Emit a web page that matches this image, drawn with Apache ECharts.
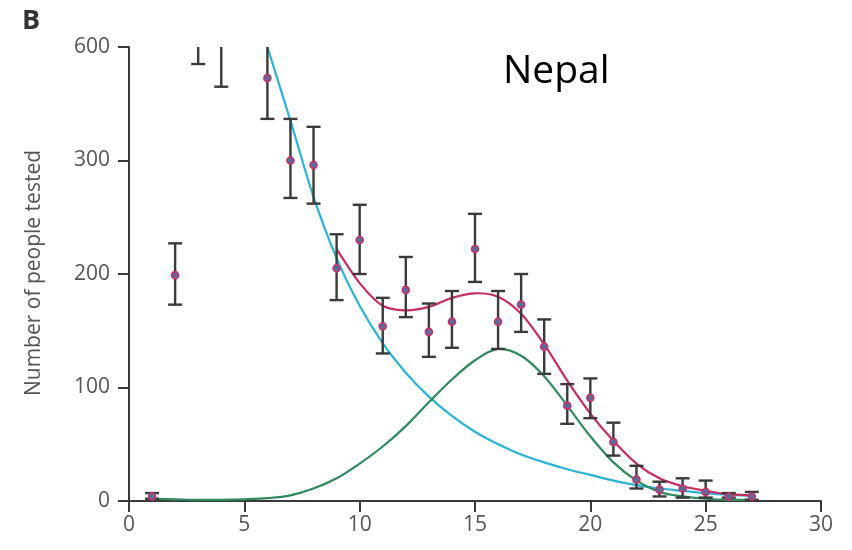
<!DOCTYPE html>
<html>
<head>
<meta charset="utf-8">
<script src="https://cdn.jsdelivr.net/npm/echarts@6/dist/echarts.min.js"></script>
<style>
html,body{margin:0;padding:0;background:#fff;}
#chart{width:852px;height:550px;}
</style>
</head>
<body>
<div id="chart"></div>
<script>
// ---- data (actual values; y axis is broken above 300: 300–600 compressed) ----
var obsX    = [1, 2, 3, 4, 6, 7, 8, 9, 10, 11, 12, 13, 14, 15, 16, 17, 18, 19, 20, 21, 22, 23, 24, 25, 26, 27];
var obsVal  = [4, 199, 665, 610, 518, 300, 296, 205, 230, 154, 186, 149, 158, 222, 158, 173, 136, 84, 91, 52, 19, 10, 11, 8, 4, 4];
var obsLow  = [2, 173, 555, 495, 410, 267, 262, 177, 200, 130, 162, 127, 135, 193, 134, 149, 112, 68, 73, 40, 11, 4, 3, 3, 3, 1];
var obsHigh = [7, 227, 780, 720, 640, 410, 389, 235, 261, 179, 215, 174, 185, 253, 185, 200, 160, 103, 108, 69, 31, 17, 20, 18, 7, 8];

var blueX = [6, 7, 8, 9, 10, 11, 12, 13, 14, 15, 16, 17, 18, 19, 20, 21, 22, 23, 24, 25, 26, 27];
var blueY = [600, 405, 268, 214, 172, 139, 113, 92, 75, 61, 50, 41, 34, 28, 23, 18, 14, 11, 9, 7, 5.5, 4.5];

var greenX = [1, 2, 3, 4, 5, 6, 7, 8, 9, 10, 11, 12, 13, 14, 15, 16, 17, 18, 19, 20, 21, 22, 23, 24, 25, 26, 27];
var greenY = [2, 1.5, 1, 1, 1.5, 2.5, 5, 11, 20, 33, 48, 66, 87, 107, 124, 134, 128, 110, 84, 57, 34, 18, 8, 4, 2, 1, 1];

var redX = [9, 10, 11, 12, 13, 14, 15, 16, 17, 18, 19, 20, 21, 22, 23, 24, 25, 26, 27];
var redY = [222, 192, 172, 168, 171, 179, 183, 180, 165, 138, 106, 77, 53, 33, 20, 13, 9, 6, 5];

var yTickLabels = ['0', '100', '200', '300', '600'];
var xTickLabels = ['0', '5', '10', '15', '20', '25', '30'];

// broken-axis mapping: values above 300 are compressed 3:1
function disp(v) { return v <= 300 ? v : 300 + (v - 300) / 3; }
function pairs(xs, ys) { return xs.map(function (x, i) { return [x, disp(ys[i])]; }); }

// smooth curve (Catmull-Rom -> cubic Bezier) through points placed by the axis scales
function curveSeries(xs, ys, color, z) {
  var pts = pairs(xs, ys);
  return {
    type: 'custom', clip: true, z: z, silent: true,
    data: [pts[0]],
    renderItem: function (params, api) {
      var p = pts.map(function (d) { return api.coord(d); });
      var n = p.length;
      var d = 'M' + p[0][0] + ' ' + p[0][1];
      for (var i = 0; i < n - 1; i++) {
        var p0 = p[i > 0 ? i - 1 : i], p1 = p[i], p2 = p[i + 1], p3 = p[i + 2 < n ? i + 2 : i + 1];
        var c1x = p1[0] + (p2[0] - p0[0]) / 6, c1y = p1[1] + (p2[1] - p0[1]) / 6;
        var c2x = p2[0] - (p3[0] - p1[0]) / 6, c2y = p2[1] - (p3[1] - p1[1]) / 6;
        d += ' C' + c1x + ' ' + c1y + ' ' + c2x + ' ' + c2y + ' ' + p2[0] + ' ' + p2[1];
      }
      return {type: 'path', shape: {pathData: d},
        style: {stroke: color, fill: null, lineWidth: 2.2}};
    }
  };
}

var chart = echarts.init(document.getElementById('chart'), null, {renderer: 'canvas'});
var axisColor = '#3a3a3a';
var labelColor = '#555';
var fontFam = '"Open Sans", "Noto Sans", sans-serif';

var option = {
  animation: false,
  backgroundColor: '#fff',
  grid: {left: 129, right: 31, top: 47, bottom: 49, containLabel: false},
  xAxis: {
    type: 'value', min: 0, max: 30, interval: 5,
    axisLine: {show: true, lineStyle: {color: axisColor, width: 2}},
    axisTick: {show: true, inside: false, length: 11, lineStyle: {color: axisColor, width: 2}},
    axisLabel: {color: labelColor, fontSize: 21, fontFamily: fontFam, margin: 14,
      formatter: function (v) { return xTickLabels[v / 5]; }},
    splitLine: {show: false}
  },
  yAxis: {
    type: 'value', min: 0, max: 400, interval: 100,
    axisLine: {show: true, lineStyle: {color: axisColor, width: 2}},
    axisTick: {show: true, inside: false, length: 11, lineStyle: {color: axisColor, width: 2}},
    axisLabel: {color: labelColor, fontSize: 21, fontFamily: fontFam, margin: 19,
      formatter: function (v) { return yTickLabels[v / 100]; }},
    splitLine: {show: false}
  },
  graphic: [
    {type: 'text', left: 22, top: 8, style: {text: 'B', font: 'bold 27px ' + fontFam, fill: '#333'}},
    {type: 'text', left: 503, top: 52, style: {text: 'Nepal', font: '39px ' + fontFam, fill: '#000'}},
    {type: 'text', x: 34, y: 273, rotation: Math.PI / 2,
      style: {text: 'Number of people tested', font: '21px ' + fontFam, fill: labelColor,
        textAlign: 'center', textVerticalAlign: 'middle'}}
  ],
  series: [
    curveSeries(blueX, blueY, '#2ab3d6', 2),
    curveSeries(greenX, greenY, '#2e8a5c', 2),
    curveSeries(redX, redY, '#c72d5e', 3),
    {type: 'custom', clip: true, z: 4,
      data: obsX.map(function (x, i) { return [x, disp(obsLow[i]), disp(obsHigh[i])]; }),
      renderItem: function (params, api) {
        var lo = api.coord([api.value(0), api.value(1)]);
        var hi = api.coord([api.value(0), api.value(2)]);
        var hw = 7;
        var st = {stroke: '#3a3a3a', lineWidth: 2.4};
        return {type: 'group', children: [
          {type: 'line', shape: {x1: lo[0], y1: lo[1], x2: hi[0], y2: hi[1]}, style: st},
          {type: 'line', shape: {x1: lo[0] - hw, y1: lo[1], x2: lo[0] + hw, y2: lo[1]}, style: st},
          {type: 'line', shape: {x1: hi[0] - hw, y1: hi[1], x2: hi[0] + hw, y2: hi[1]}, style: st}
        ]};
      }
    },
    {type: 'scatter', clip: true, z: 5,
      data: pairs(obsX, obsVal).filter(function (p) { return p[1] <= 400; }),
      symbol: 'circle', symbolSize: 7,
      itemStyle: {color: '#5d6b98', borderColor: '#c8306a', borderWidth: 1.6, opacity: 1}}
  ]
};
chart.setOption(option);
</script>
</body>
</html>
